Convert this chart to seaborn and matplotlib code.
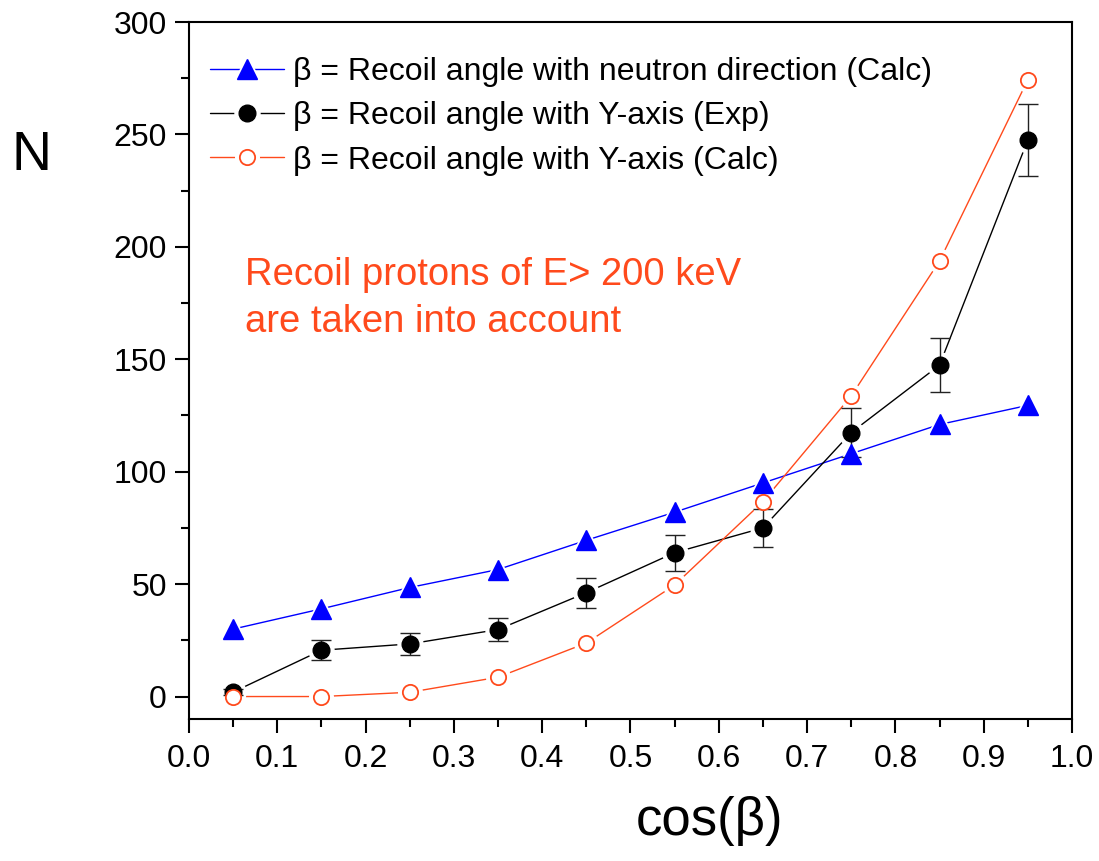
import numpy as np
import pandas as pd
import matplotlib
matplotlib.use("Agg")
import matplotlib.pyplot as plt
from matplotlib.lines import Line2D
from matplotlib.ticker import MultipleLocator
import seaborn as sns

# ---- data ----
cos_beta = [0.05, 0.15, 0.25, 0.35, 0.45, 0.55, 0.65, 0.75, 0.85, 0.95]
n_neutron_calc = [30, 39, 48.5, 56.5, 69.5, 82, 95, 108, 121, 129.5]
n_yaxis_exp = [2, 20.6, 23.4, 29.8, 46.2, 64, 75, 117.4, 147.4, 247.5]
n_yaxis_exp_err = [1.5, 4.5, 5, 5.3, 6.7, 8, 8.6, 11, 12, 16]
n_yaxis_calc = [0, 0, 1.9, 8.6, 23.8, 49.6, 86.7, 133.7, 193.7, 274.3]

labels = [
    "\u03b2 = Recoil angle with neutron direction (Calc)",
    "\u03b2 = Recoil angle with Y-axis (Exp)",
    "\u03b2 = Recoil angle with Y-axis (Calc)",
]
x_ticks = [0.0, 0.1, 0.2, 0.3, 0.4, 0.5, 0.6, 0.7, 0.8, 0.9, 1.0]
y_ticks = [0, 50, 100, 150, 200, 250, 300]
annotation = "Recoil protons of E> 200 keV\nare taken into account"

BLUE = "#0000FF"
BLACK = "#000000"
ORANGE = "#FF4A1C"

sns.set_style("ticks")
plt.rcParams["font.family"] = ["Liberation Sans", "DejaVu Sans"]
plt.rcParams["axes.linewidth"] = 1.5
plt.rcParams["text.color"] = "black"
plt.rcParams["axes.labelcolor"] = "black"
plt.rcParams["xtick.color"] = "black"
plt.rcParams["ytick.color"] = "black"

fig = plt.figure(figsize=(10.99, 8.61), dpi=100)
ax = fig.add_axes([0.172, 0.1649, 0.8034, 0.8095])

df = pd.DataFrame({
    "x": cos_beta,
    "blue": n_neutron_calc,
    "black": n_yaxis_exp,
    "err": n_yaxis_exp_err,
    "orange": n_yaxis_calc,
})

series = [
    ("blue", BLUE, "^", 14, True),
    ("black", BLACK, "o", 12, True),
    ("orange", ORANGE, "o", 11, False),
]

# lines
for col, c, m, ms, filled in series:
    sns.lineplot(data=df, x="x", y=col, ax=ax, color=c, lw=1.0,
                 estimator=None, sort=False, zorder=2)
# white halos to create gaps near markers
for col, c, m, ms, filled in series:
    ax.plot(df["x"], df[col], ls="none", marker=m, ms=ms + 6,
            mfc="white", mec="white", zorder=3)
# error bars
ax.errorbar(df["x"], df["black"], yerr=df["err"], fmt="none",
            ecolor="#222222", elinewidth=1.0, capsize=7, capthick=1.0, zorder=4)
# markers
for col, c, m, ms, filled in series:
    if filled:
        ax.plot(df["x"], df[col], ls="none", marker=m, ms=ms,
                mfc=c, mec=c, zorder=5)
    else:
        ax.plot(df["x"], df[col], ls="none", marker=m, ms=ms,
                mfc="white", mec=c, mew=1.3, zorder=5)

ax.set_xlim(0.0, 1.0)
ax.set_ylim(-10, 300)
ax.set_xticks(x_ticks)
ax.set_xticklabels([f"{t:.1f}" for t in x_ticks])
ax.set_yticks(y_ticks)
ax.set_yticklabels([str(t) for t in y_ticks])
ax.xaxis.set_minor_locator(MultipleLocator(0.05))
ax.yaxis.set_minor_locator(MultipleLocator(25))
ax.tick_params(axis="both", which="major", direction="out", length=10,
               width=1.5, labelsize=23, color="black", labelcolor="black")
ax.tick_params(axis="x", which="major", pad=8)
ax.tick_params(axis="y", which="major", pad=6)
ax.tick_params(axis="both", which="minor", direction="out", length=6,
               width=1.5, color="black")
for s in ax.spines.values():
    s.set_visible(True)
    s.set_color("black")
    s.set_linewidth(1.5)

ax.set_xlabel("")
ax.set_ylabel("")
fig.text(0.646, 0.046, "cos(\u03b2)", fontsize=38, ha="center", va="center",
         color="black")
fig.text(0.029, 0.819, "N", fontsize=40, ha="center", va="center",
         color="black")

ax.text(0.063, 0.663, annotation, transform=ax.transAxes, fontsize=27.5,
        color=ORANGE, ha="left", va="top", linespacing=1.38)

# legend with gaps around markers
handles = []
for col, c, m, ms, filled in series:
    ln = Line2D([], [], color=c, lw=1.0)
    halo = Line2D([], [], ls="none", marker=m, ms=ms + 6, mfc="white", mec="white")
    if filled:
        mk = Line2D([], [], ls="none", marker=m, ms=ms, mfc=c, mec=c)
    else:
        mk = Line2D([], [], ls="none", marker=m, ms=ms, mfc="white", mec=c, mew=1.3)
    handles.append((ln, halo, mk))
leg = ax.legend(handles, labels, loc="upper left", bbox_to_anchor=(0.024, 0.950),
                frameon=False, fontsize=23, handlelength=2.3, handletextpad=0.28,
                labelspacing=0.45, borderpad=0, borderaxespad=0, numpoints=1)
for t in leg.get_texts():
    t.set_color("black")

fig.savefig("out.png", dpi=100)
